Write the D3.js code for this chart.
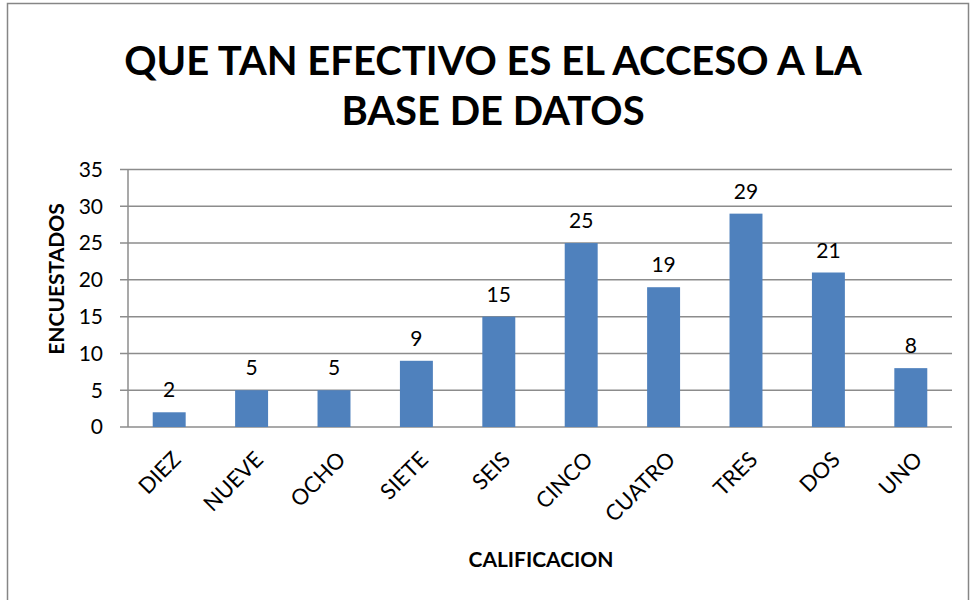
<!DOCTYPE html>
<html>
<head>
<meta charset="utf-8">
<script src="https://cdn.jsdelivr.net/npm/d3@7"></script>
<style>
  body { margin: 0; background: #fff; }
  text { font-family: Lato, "Open Sans", sans-serif; }
</style>
</head>
<body>
<script>
// datos
var categorias = ["DIEZ", "NUEVE", "OCHO", "SIETE", "SEIS", "CINCO", "CUATRO", "TRES", "DOS", "UNO"];
var encuestados = [2, 5, 5, 9, 15, 25, 19, 29, 21, 8];
var ticksY = [0, 5, 10, 15, 20, 25, 30, 35];
var titulo = ["QUE TAN EFECTIVO ES EL ACCESO A LA", "BASE DE DATOS"];

var width = 970, height = 600;
var plotLeft = 128, plotRight = 952, plotTop = 169.5, plotBottom = 427;

var svg = d3.select("body").append("svg")
    .attr("width", width)
    .attr("height", height);

// marco del gráfico
svg.append("rect")
    .attr("x", 7.5).attr("y", 3.5)
    .attr("width", 961).attr("height", 610)
    .style("fill", "none")
    .style("stroke", "#868686")
    .style("stroke-width", 1.5);

// titulo
svg.selectAll(".titulo").data(titulo).enter().append("text")
    .attr("x", 493)
    .attr("y", function(d, i) { return 75 + i * 50; })
    .attr("text-anchor", "middle")
    .style("font-size", "40px")
    .style("font-weight", "bold")
    .text(function(d) { return d; });

var x = d3.scaleBand().domain(categorias).range([plotLeft, plotRight]).paddingInner(0.6).paddingOuter(0.3);
var y = d3.scaleLinear().domain([0, 35]).range([plotBottom, plotTop]);

// lineas de cuadricula + marcas
svg.selectAll(".grid").data(ticksY).enter().append("line")
    .attr("x1", plotLeft - 8).attr("x2", plotRight)
    .attr("y1", function(d) { return y(d); })
    .attr("y2", function(d) { return y(d); })
    .style("stroke", "#8c8c8c")
    .style("stroke-width", 1.5);

// eje vertical
svg.append("line")
    .attr("x1", plotLeft).attr("x2", plotLeft)
    .attr("y1", plotTop).attr("y2", plotBottom)
    .style("stroke", "#8c8c8c")
    .style("stroke-width", 1.5);

// etiquetas del eje y
svg.selectAll(".ty").data(ticksY).enter().append("text")
    .attr("x", 103)
    .attr("y", function(d) { return y(d); })
    .attr("dy", "0.35em")
    .attr("text-anchor", "end")
    .style("font-size", "21px")
    .text(function(d) { return d; });

// barras
svg.selectAll(".bar").data(encuestados).enter().append("rect")
    .attr("x", function(d, i) { return x(categorias[i]); })
    .attr("y", function(d) { return y(d); })
    .attr("width", x.bandwidth())
    .attr("height", function(d) { return plotBottom - y(d); })
    .style("fill", "#4f81bd");

// valores
svg.selectAll(".val").data(encuestados).enter().append("text")
    .attr("x", function(d, i) { return x(categorias[i]) + x.bandwidth() / 2; })
    .attr("y", function(d) { return y(d) - 15; })
    .attr("text-anchor", "middle")
    .style("font-size", "21px")
    .text(function(d) { return d; });

// etiquetas del eje x
svg.selectAll(".tx").data(categorias).enter().append("text")
    .attr("text-anchor", "end")
    .attr("transform", function(d) {
        return "translate(" + (x(d) + x.bandwidth() / 2 + 13) + "," + 461 + ") rotate(-45)";
    })
    .style("font-size", "22px")
    .text(function(d) { return d; });

// titulos de ejes
svg.append("text")
    .attr("x", 541).attr("y", 567)
    .attr("text-anchor", "middle")
    .style("font-size", "21px")
    .style("font-weight", "bold")
    .text("CALIFICACION");

svg.append("text")
    .attr("transform", "translate(64,279) rotate(-90)")
    .attr("text-anchor", "middle")
    .style("font-size", "21px")
    .style("font-weight", "bold")
    .text("ENCUESTADOS");
</script>
</body>
</html>
